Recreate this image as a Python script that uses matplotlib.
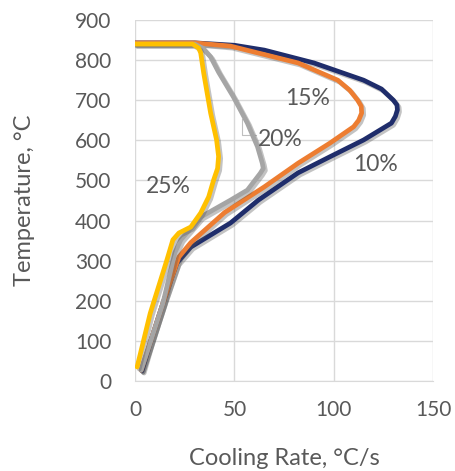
import matplotlib
matplotlib.use("Agg")
import matplotlib.pyplot as plt
import matplotlib.patheffects as pe

plt.rcParams['font.family'] = ['Lato', 'DejaVu Sans']

# Series data: cooling rate (°C/s) vs temperature (°C)
rate_10 = [0, 30, 50, 65, 90, 115, 124, 130, 131.8, 132, 131, 129, 115, 98, 82, 62, 48, 28, 21, 14, 8, 3.5]
temp_10 = [843, 843, 837, 825, 793, 750, 728, 700, 688, 676, 660, 643, 601, 559, 519, 451, 394, 334, 294, 194, 102, 25]

rate_15 = [0, 30, 48, 82, 102, 108, 112, 113.8, 114, 112.5, 110, 98, 82, 65, 45, 28, 22, 14, 8, 3]
temp_15 = [843, 843, 835, 793, 750, 725, 700, 685, 668, 650, 634, 593, 543, 484, 420, 345, 309, 194, 102, 27]

rate_20 = [0, 30, 34, 38, 42, 49.5, 56.5, 61.6, 64, 64.5, 63, 56.5, 48, 33, 23, 20, 14, 8, 3]
temp_20 = [840, 840, 830, 808, 770, 708, 643, 584, 543, 530, 518, 476, 451, 409, 352, 320, 194, 102, 27]

rate_25 = [0, 29, 32, 33, 34.5, 38, 41, 42, 41.5, 39.5, 37, 33, 28, 22, 19, 16, 7.6, 1]
temp_25 = [840, 840, 830, 818, 768, 668, 601, 560, 530, 501, 459, 419, 384, 369, 352, 302, 169, 35]

labels = ["10%", "15%", "20%", "25%"]
colors = ["#1f2d6b", "#ed7d31", "#a5a5a5", "#ffc000"]

x_ticks = [0, 50, 100, 150]
y_ticks = [0, 100, 200, 300, 400, 500, 600, 700, 800, 900]

fig = plt.figure(figsize=(4.55, 4.71), dpi=100)
ax = fig.add_axes([0.297, 0.191, 0.655, 0.7665])

shadow = [pe.SimpleLineShadow(offset=(1.5, -1.5), alpha=0.35, shadow_color='#555555'), pe.Normal()]
series = [(rate_10, temp_10), (rate_15, temp_15), (rate_20, temp_20), (rate_25, temp_25)]
for (r, t), c in zip(series, colors):
    ax.plot(r, t, color=c, lw=3.4, solid_joinstyle='round', solid_capstyle='round',
            path_effects=shadow, zorder=3)

ax.set_xlim(0, 150)
ax.set_ylim(0, 900)
ax.set_xticks(x_ticks)
ax.set_yticks(y_ticks)
ax.grid(True, color='#d9d9d9', lw=1.0, zorder=0)
for s in ['top', 'right', 'left']:
    ax.spines[s].set_visible(False)
ax.spines['bottom'].set_color('#d9d9d9')
ax.tick_params(axis='both', length=0, labelsize=15, labelcolor='#595959')
ax.tick_params(axis='x', pad=14)
ax.tick_params(axis='y', pad=17)
ax.set_xlabel("Cooling Rate, °C/s", fontsize=17, color='#595959', labelpad=20)
ax.set_ylabel("Temperature, °C", fontsize=17, color='#595959', labelpad=29)

txt = dict(fontsize=16.5, color='#595959', ha='center', va='center', zorder=5)
ax.text(87, 704, labels[1], **txt)
ax.text(73, 603, labels[2], **txt)
ax.text(121, 539, labels[0], **txt)
ax.text(16.8, 484, labels[3], **txt)
# small leader for 20% label
ax.plot([53.8, 53.8, 61], [652, 613, 613], color='#bfbfbf', lw=0.8, zorder=2)

fig.savefig("out.png", dpi=100)
